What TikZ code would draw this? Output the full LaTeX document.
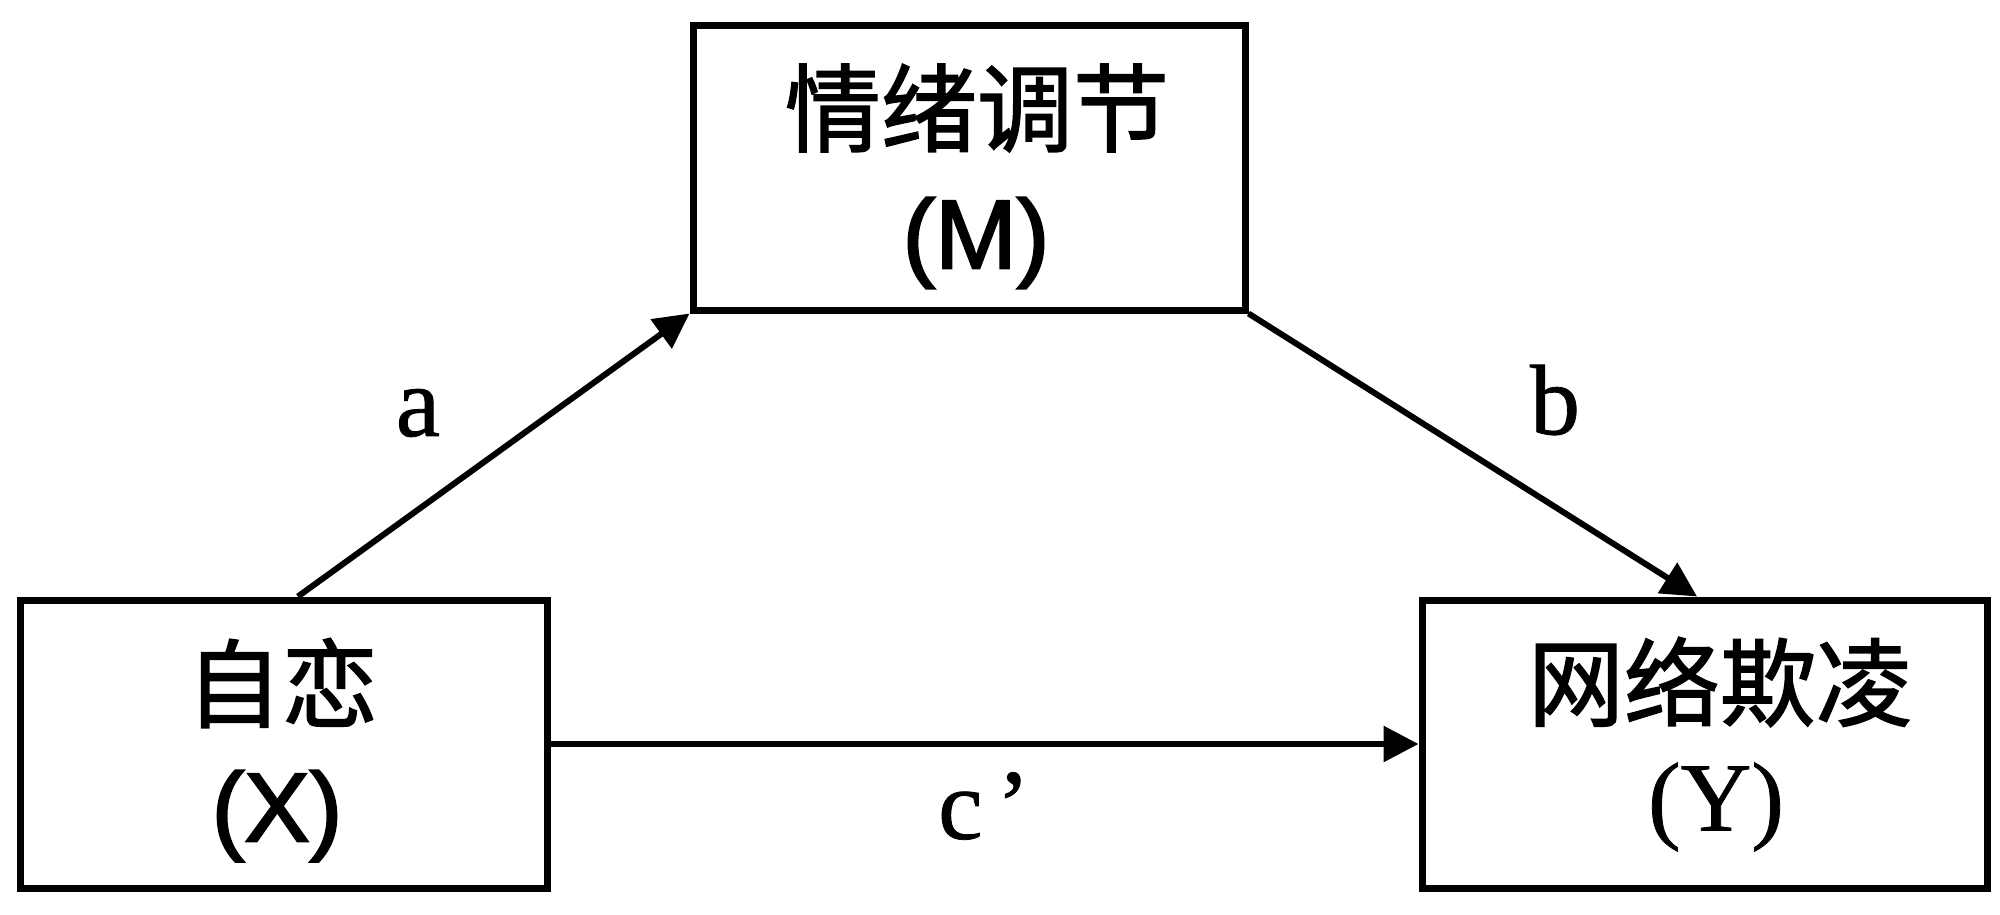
\documentclass[tikz,border=0pt]{standalone}
\usepackage{fontspec}
\setmainfont{Liberation Serif}
\newfontfamily\cjk[FakeBold=1.6]{Noto Sans CJK SC}
\newfontfamily\arialf[FakeBold=2.2]{Liberation Sans}
\newfontfamily\serifheavy[FakeBold=0.8]{Liberation Serif}
\usetikzlibrary{arrows.meta,calc}
\begin{document}
\begin{tikzpicture}[x=1pt,y=-1pt,
  varbox/.style={draw=black, line width=7pt, fill=white, inner sep=0pt},
  cjkt/.style={inner sep=0pt, font=\cjk\fontsize{96}{110}\selectfont},
  sanst/.style={inner sep=0pt, font=\arialf\fontsize{98}{110}\selectfont},
  serift/.style={inner sep=0pt, font=\serifheavy\fontsize{98}{110}\selectfont},
  pathlbl/.style={inner sep=0pt, font=\serifheavy\fontsize{100}{110}\selectfont},
  link/.style={line width=6pt, -{Triangle[length=35pt,width=35pt]}}]
\useasboundingbox[fill=white] (0,0) rectangle (2000,914);
% boxes
\node[varbox, minimum width=552pt, minimum height=285pt] (M) at (969,167.5) {};
\node[varbox, minimum width=527pt, minimum height=288pt] (X) at (283.5,744) {};
\node[varbox, minimum width=565pt, minimum height=288pt] (Y) at (1704.5,744) {};
% box texts
\node[cjkt] (Mt) at (977,108) {情绪调节};
\node[sanst] (Ms) at (976,243) {(M)};
\node[cjkt] (Xt) at (282,683) {自恋};
\node[sanst] (Xs) at (277,816) {(X)};
\node[cjkt] (Yt) at (1720,682) {网络欺凌};
\node[serift] (Ys) at (1716,807) {(Y)};
% connectors
\coordinate (aStart) at ($(X.north west)!0.527!(X.north east)$);
\coordinate (bEnd) at ($(Y.north west)!0.487!(Y.north east)$);
\draw[link] (aStart) -- (M.south west);
\draw[link] (M.south east) -- (bEnd);
\draw[link] (X.east) -- (Y.west);
% path labels
\node[pathlbl] (la) at (418,413) {a};
\node[pathlbl] (lb) at (1555,400) {b};
\node[pathlbl] (lc) at (984,806) {c\hspace{14pt}’};
\end{tikzpicture}
\end{document}
